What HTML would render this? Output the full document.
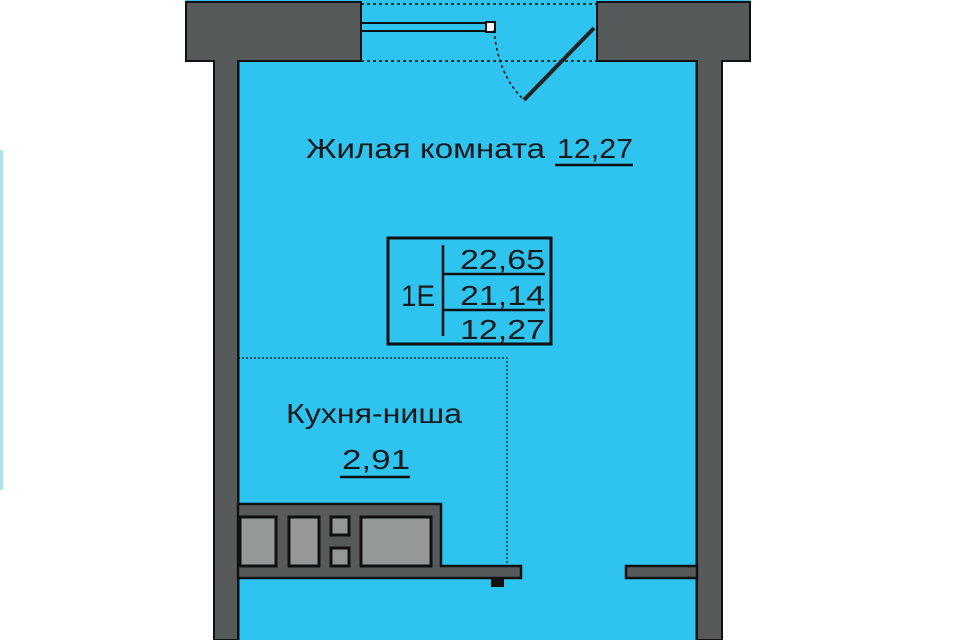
<!DOCTYPE html>
<html><head><meta charset="utf-8"><style>
html,body{margin:0;padding:0;background:#fff;width:960px;height:640px;overflow:hidden}
svg text{font-family:"Liberation Sans","DejaVu Sans",sans-serif;fill:#1a1a1a}
</style></head><body>
<svg width="960" height="640" viewBox="0 0 960 640" xmlns="http://www.w3.org/2000/svg">
<rect x="0" y="150" width="3" height="340" fill="#a8e4f4"/>
<rect x="186" y="0" width="564" height="3" fill="#2fc4f0"/>
<rect x="238" y="60" width="459" height="590" fill="#2fc4f0" stroke="#111" stroke-width="3"/>
<rect x="361" y="2" width="236" height="62" fill="#2fc4f0"/>
<path d="M186 2 H361 V61 H238 V640 H214 V61 H186 Z" fill="#575a5b" stroke="#111" stroke-width="2"/>
<path d="M597 2 H750 V61 H722 V640 H697 V61 H597 Z" fill="#575a5b" stroke="#111" stroke-width="2"/>
<line x1="361" y1="4" x2="597" y2="4" stroke="#111" stroke-width="1.5" stroke-dasharray="3,3"/>
<line x1="361" y1="61" x2="597" y2="61" stroke="#111" stroke-width="1.5" stroke-dasharray="3,3"/>
<rect x="361" y="23" width="130" height="8" fill="#2fc4f0" stroke="#111" stroke-width="2"/>
<rect x="486" y="22" width="9" height="10" fill="#fff" stroke="#111" stroke-width="2"/>
<line x1="594" y1="28" x2="524" y2="100" stroke="#222" stroke-width="4"/>
<path d="M494 30 Q498 75 524 100" fill="none" stroke="#111" stroke-width="1.5" stroke-dasharray="3,3"/>
<path d="M238 358 H507 V566" fill="none" stroke="#111" stroke-width="1.2" stroke-dasharray="2,2"/>
<path d="M238 504 H441 V566 H521 V578 H238 Z" fill="#575a5b" stroke="#111" stroke-width="2.5"/>
<rect x="491" y="577" width="13" height="10" fill="#111"/>
<rect x="626" y="566" width="71" height="12" fill="#575a5b" stroke="#111" stroke-width="2.5"/>
<rect x="240" y="517" width="36" height="49" fill="#949899" stroke="#111" stroke-width="3"/>
<rect x="289" y="517" width="30" height="49" fill="#949899" stroke="#111" stroke-width="3"/>
<rect x="331" y="517" width="18" height="18" fill="#949899" stroke="#111" stroke-width="3"/>
<rect x="331" y="548" width="18" height="18" fill="#949899" stroke="#111" stroke-width="3"/>
<rect x="361" y="517" width="70" height="49" fill="#949899" stroke="#111" stroke-width="3"/>
<text x="306" y="158" font-size="28" textLength="239" lengthAdjust="spacingAndGlyphs">Жилая комната</text>
<text x="557" y="158" font-size="28" textLength="76" lengthAdjust="spacingAndGlyphs">12,27</text>
<line x1="555" y1="165" x2="633" y2="165" stroke="#111" stroke-width="2.5"/>
<rect x="388" y="238" width="163" height="106" fill="none" stroke="#111" stroke-width="3"/>
<line x1="443" y1="245" x2="443" y2="336" stroke="#111" stroke-width="2.5"/>
<line x1="443" y1="274" x2="545" y2="274" stroke="#111" stroke-width="2.5"/>
<line x1="443" y1="310" x2="545" y2="310" stroke="#111" stroke-width="2.5"/>
<text x="401" y="306" font-size="30" textLength="34" lengthAdjust="spacingAndGlyphs">1E</text>
<text x="460" y="269" font-size="28" textLength="85" lengthAdjust="spacingAndGlyphs">22,65</text>
<text x="460" y="305" font-size="28" textLength="85" lengthAdjust="spacingAndGlyphs">21,14</text>
<text x="460" y="339" font-size="28" textLength="85" lengthAdjust="spacingAndGlyphs">12,27</text>
<text x="286" y="423" font-size="28" textLength="176" lengthAdjust="spacingAndGlyphs">Кухня-ниша</text>
<text x="342" y="469" font-size="28" textLength="68" lengthAdjust="spacingAndGlyphs">2,91</text>
<line x1="340" y1="477" x2="410" y2="477" stroke="#111" stroke-width="2.5"/>
</svg>
</body></html>
